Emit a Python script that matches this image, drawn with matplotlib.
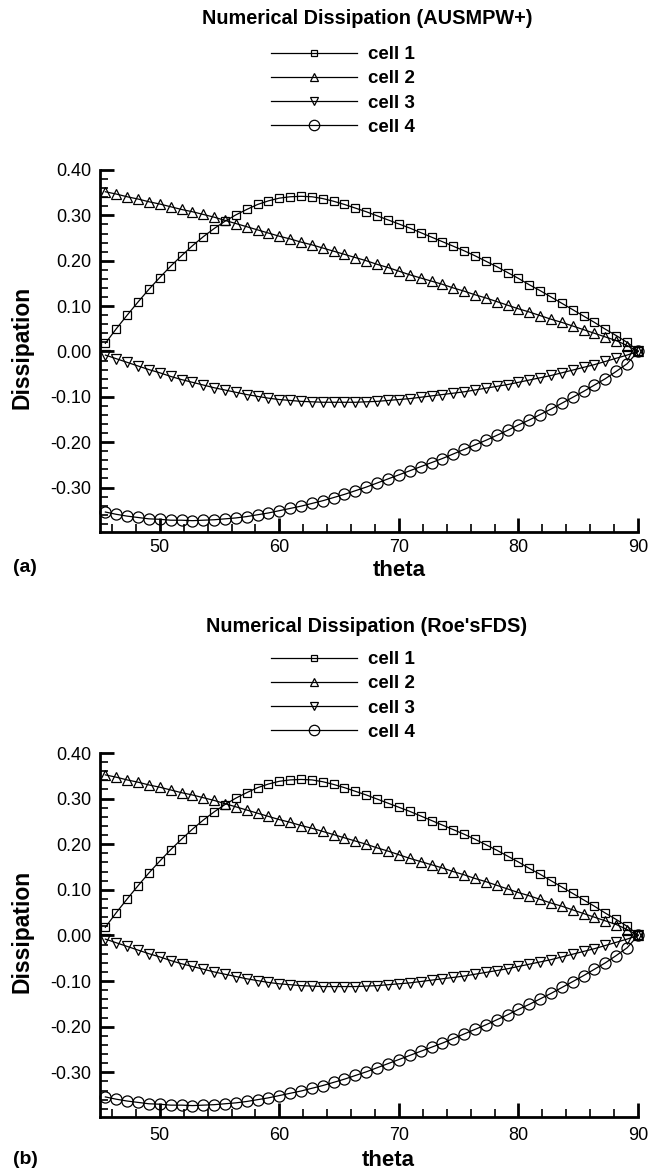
import matplotlib
matplotlib.use("Agg")
import matplotlib.pyplot as plt
from matplotlib.ticker import MultipleLocator, FixedLocator, FormatStrFormatter

plt.rcParams['font.family'] = ['Liberation Sans', 'DejaVu Sans']

theta = [45.45, 46.36, 47.27, 48.18, 49.09, 50.00, 50.91, 51.82, 52.73, 53.64,
         54.55, 55.45, 56.36, 57.27, 58.18, 59.09, 60.00, 60.91, 61.82, 62.73,
         63.64, 64.55, 65.45, 66.36, 67.27, 68.18, 69.09, 70.00, 70.91, 71.82,
         72.73, 73.64, 74.55, 75.45, 76.36, 77.27, 78.18, 79.09, 80.00, 80.91,
         81.82, 82.73, 83.64, 84.55, 85.45, 86.36, 87.27, 88.18, 89.09, 90.00]

cell1 = [0.018, 0.050, 0.080, 0.109, 0.137, 0.163, 0.188, 0.211, 0.233, 0.253,
         0.271, 0.287, 0.301, 0.313, 0.324, 0.332, 0.338, 0.341, 0.342, 0.341,
         0.337, 0.331, 0.324, 0.316, 0.308, 0.299, 0.290, 0.281, 0.272, 0.262,
         0.252, 0.242, 0.232, 0.222, 0.211, 0.199, 0.187, 0.174, 0.161, 0.147,
         0.134, 0.120, 0.106, 0.092, 0.078, 0.064, 0.049, 0.035, 0.020, 0.002]

cell2 = [0.352, 0.347, 0.341, 0.336, 0.330, 0.325, 0.319, 0.313, 0.308, 0.302,
         0.296, 0.289, 0.282, 0.275, 0.268, 0.261, 0.254, 0.248, 0.241, 0.235,
         0.228, 0.221, 0.214, 0.207, 0.200, 0.192, 0.185, 0.177, 0.169, 0.162,
         0.155, 0.148, 0.140, 0.133, 0.125, 0.118, 0.110, 0.102, 0.094, 0.087,
         0.079, 0.071, 0.064, 0.056, 0.048, 0.040, 0.032, 0.024, 0.013, 0.000]

cell3 = [-0.008, -0.016, -0.024, -0.032, -0.040, -0.047, -0.055, -0.062, -0.068, -0.074,
         -0.080, -0.085, -0.090, -0.095, -0.099, -0.103, -0.106, -0.108, -0.110, -0.111,
         -0.112, -0.112, -0.112, -0.112, -0.111, -0.110, -0.108, -0.106, -0.104, -0.101,
         -0.098, -0.095, -0.092, -0.089, -0.085, -0.081, -0.077, -0.073, -0.068, -0.063,
         -0.058, -0.053, -0.047, -0.041, -0.035, -0.029, -0.022, -0.015, -0.008, 0.000]

cell4 = [-0.354, -0.359, -0.363, -0.366, -0.369, -0.370, -0.372, -0.372, -0.373, -0.372,
         -0.371, -0.369, -0.367, -0.364, -0.360, -0.356, -0.351, -0.346, -0.341, -0.335,
         -0.329, -0.322, -0.315, -0.307, -0.299, -0.290, -0.281, -0.272, -0.263, -0.254,
         -0.245, -0.236, -0.226, -0.216, -0.206, -0.196, -0.185, -0.174, -0.162, -0.151,
         -0.139, -0.127, -0.114, -0.101, -0.088, -0.074, -0.060, -0.044, -0.027, 0.000]

series = [cell1, cell2, cell3, cell4]
labels = ["cell 1", "cell 2", "cell 3", "cell 4"]
markers = ["s", "^", "v", "o"]
msizes = [6.2, 6.5, 6.5, 8.0]
leg_msizes = [4.5, 6.0, 6.0, 7.5]

titles = ["Numerical Dissipation (AUSMPW+)", "Numerical Dissipation (Roe'sFDS)"]
panel_tags = ["(a)", "(b)"]
yticks = [-0.30, -0.20, -0.10, 0.00, 0.10, 0.20, 0.30, 0.40]
xticks = [50, 60, 70, 80, 90]

W, H = 648, 1176
fig = plt.figure(figsize=(W / 100, H / 100), dpi=100)

# panel geometry in pixels: (left, top, right, bottom)
panels = [dict(box=(100, 170, 638, 532), title_y=18, leg_top=46, tag_y=568,
               xlab=(399, 571), xpad=5.0),
          dict(box=(100, 753, 638, 1117), title_y=627, leg_top=651, tag_y=1159,
               xlab=(388, 1161), xpad=7.5)]

for k, p in enumerate(panels):
    l, t, r, b = p['box']
    ax = fig.add_axes([l / W, 1 - b / H, (r - l) / W, (b - t) / H])
    lines = []
    for s, lab, m, ms in zip(series, labels, markers, msizes):
        ln, = ax.plot(theta, s, color='black', lw=0.9, marker=m, ms=ms,
                      mfc='none', mec='black', mew=0.9, clip_on=False, label=lab)
        lines.append(ln)
    ax.set_xlim(45, 90)
    ax.set_ylim(-0.398, 0.40)
    for side in ['top', 'right']:
        ax.spines[side].set_visible(False)
    for side in ['left', 'bottom']:
        ax.spines[side].set_linewidth(2.0)
    ax.xaxis.set_major_locator(FixedLocator(xticks))
    ax.xaxis.set_minor_locator(MultipleLocator(2))
    ax.yaxis.set_major_locator(FixedLocator(yticks))
    ax.yaxis.set_minor_locator(MultipleLocator(0.02))
    ax.yaxis.set_major_formatter(FormatStrFormatter('%.2f'))
    ax.tick_params(which='major', direction='in', length=10, width=2.0, labelsize=13)
    ax.tick_params(which='minor', direction='in', length=6, width=1.2)
    ax.tick_params(axis='x', which='major', pad=p['xpad'])
    ax.tick_params(axis='y', which='major', pad=6)
    ax.tick_params(top=False, right=False, which='both')

    ax.set_ylabel("Dissipation", fontsize=16.5, fontweight='bold')
    ax.yaxis.label.set_verticalalignment('center')
    ax.yaxis.set_label_coords((22 - l) / (r - l), (b - (t + b) / 2 + 4) / (b - t))
    ax.set_xlabel("theta", fontsize=16, fontweight='bold')
    ax.xaxis.label.set_verticalalignment('center')
    xl, yl = p['xlab']
    ax.xaxis.set_label_coords((xl - l) / (r - l), (b - yl) / (b - t))

    fig.text(367 / W, 1 - p['title_y'] / H, titles[k], ha='center',
             va='center', fontsize=14.3, fontweight='bold')
    fig.text(25 / W, 1 - p['tag_y'] / H, panel_tags[k], ha='center', va='center',
             fontsize=14, fontweight='bold')

    leg = fig.legend(handles=lines, loc='upper left',
                     bbox_to_anchor=(271 / W, 1 - p['leg_top'] / H),
                     frameon=False, fontsize=13.5, handlelength=4.6,
                     handletextpad=0.6, labelspacing=0.38, borderpad=0,
                     borderaxespad=0, markerscale=1.0)
    for txt in leg.get_texts():
        txt.set_fontweight('bold')
    for h, lms in zip(leg.legend_handles, leg_msizes):
        h.set_markersize(lms)

fig.savefig("out.png", dpi=100)
